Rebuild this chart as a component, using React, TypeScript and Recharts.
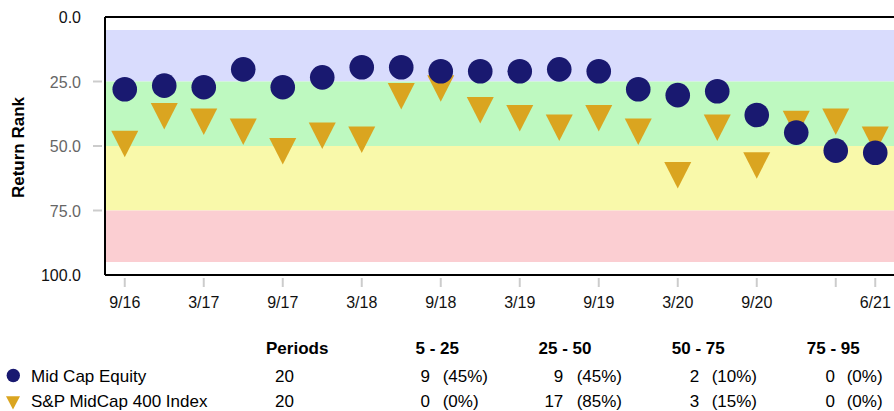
import React from "react";
import {
  ScatterChart,
  Scatter,
  XAxis,
  YAxis,
  ReferenceArea,
  ReferenceLine,
} from "recharts";

// ---------- data ----------
const quarters = [
  "9/16", "12/16", "3/17", "6/17", "9/17", "12/17", "3/18", "6/18", "9/18", "12/18",
  "3/19", "6/19", "9/19", "12/19", "3/20", "6/20", "9/20", "12/20", "3/21", "6/21",
];
const tickIndices = [0, 2, 4, 6, 8, 10, 12, 14, 16, 18, 19];
const hiddenTickLabels = ["3/21"];

const midCapEquity = [
  28.0, 26.6, 27.2, 20.3, 27.2, 23.4, 19.5, 19.5, 21.0, 21.0,
  21.0, 20.3, 21.0, 28.0, 30.3, 28.8, 38.0, 44.8, 51.8, 52.6,
];
const spMidCap400 = [
  47.5, 36.7, 38.9, 42.8, 50.3, 44.3, 45.9, 29.0, 26.0, 34.4,
  37.5, 41.2, 37.5, 42.8, 59.6, 41.2, 55.8, 39.7, 38.9, 45.9,
];

const seriesNames = ["Mid Cap Equity", "S&P MidCap 400 Index"];
const seriesColors = ["#191970", "#DAA520"];

const yTicks = [0, 25, 50, 75, 100];
const bandEdges = [5, 25, 50, 75, 95];
const bandColors = ["#D9DCFD", "#BEF9C0", "#F9F9AA", "#FBCED2"];
const bandLabels = ["5 - 25", "25 - 50", "50 - 75", "75 - 95"];
const periodsHeader = "Periods";

// ---------- derived ----------
const midData = midCapEquity.map((y, i) => ({ x: i, y }));
const spData = spMidCap400.map((y, i) => ({ x: i, y }));

function bandCounts(values: number[]) {
  const counts = bandLabels.map(() => 0);
  values.forEach((v) => {
    for (let b = 0; b < bandLabels.length; b++) {
      const lo = bandEdges[b];
      const hi = bandEdges[b + 1];
      if (v >= lo && (v < hi || (b === bandLabels.length - 1 && v <= hi))) {
        counts[b]++;
        break;
      }
    }
  });
  return counts;
}
const tableRows = [midCapEquity, spMidCap400].map((vals) => ({
  periods: vals.length,
  counts: bandCounts(vals),
}));

const FONT = "'Liberation Sans', Arial, Helvetica, sans-serif";

// ---------- custom pieces ----------
const XTick = (props: any) => {
  const { x, y, payload } = props;
  const label = quarters[payload.value];
  const show = !hiddenTickLabels.includes(label);
  return (
    <g>
      <line x1={x} x2={x} y1={y + 3} y2={y + 12} stroke="#CCCCCC" strokeWidth={2} />
      {show && (
        <text x={x} y={y + 33} textAnchor="middle" fontSize={16} fill="#111" fontFamily={FONT}>
          {label}
        </text>
      )}
    </g>
  );
};

const YTick = (props: any) => {
  const { x, y, payload } = props;
  const v = payload.value;
  const inner = v !== 0 && v !== 100;
  return (
    <g>
      {inner && <line x1={x - 12} x2={x - 3} y1={y} y2={y} stroke="#CCCCCC" strokeWidth={2} />}
      <text
        x={x - 24}
        y={y + 6.3}
        textAnchor="end"
        fontSize={16}
        fill={inner ? "#666666" : "#111111"}
        fontFamily={FONT}
      >
        {v.toFixed(1)}
      </text>
    </g>
  );
};

const CircleShape = (p: any) => {
  const { cx, cy } = p;
  if (cx == null || cy == null) return null;
  return <circle cx={cx} cy={cy} r={12.3} fill={seriesColors[0]} />;
};

const TriShape = (p: any) => {
  const { cx, cy } = p;
  if (cx == null || cy == null) return null;
  return (
    <polygon
      points={`${cx - 13.5},${cy - 8.8} ${cx + 13.5},${cy - 8.8} ${cx},${cy + 17.7}`}
      fill={seriesColors[1]}
    />
  );
};

// table layout
const headerBaseline = 354.3;
const headerCenters = [437.2, 565, 698.3, 833.3];
const countRight = [430, 563.3, 699.3, 835];
const pctLeft = [442.7, 576.7, 711.7, 846.7];
const rowBaselines = [381.8, 407.2];

export default function App() {
  return (
    <div
      style={{
        position: "absolute",
        left: 0,
        top: 0,
        width: 894,
        height: 411,
        overflow: "hidden",
        background: "#fff",
      }}
    >
      <div style={{ position: "absolute", left: 0, top: 0 }}>
        <ScatterChart width={900} height={320} margin={{ top: 17, right: 5, left: 0, bottom: 10 }}>
          <XAxis
            type="number"
            dataKey="x"
            domain={[-0.5, 19.5]}
            ticks={tickIndices}
            interval={0}
            allowDataOverflow
            height={35}
            tickSize={0}
            tickMargin={0}
            tickLine={false}
            axisLine={{ stroke: "#000", strokeWidth: 2 }}
            tick={<XTick />}
          />
          <YAxis
            type="number"
            dataKey="y"
            domain={[0, 100]}
            reversed
            ticks={yTicks}
            interval={0}
            width={105}
            tickSize={0}
            tickMargin={0}
            tickLine={false}
            axisLine={{ stroke: "#000", strokeWidth: 2 }}
            tick={<YTick />}
          />
          {bandColors.map((c, b) => (
            <ReferenceArea
              key={b}
              x1={-0.5}
              x2={19.5}
              y1={bandEdges[b]}
              y2={bandEdges[b + 1]}
              fill={c}
              fillOpacity={1}
              stroke="none"
            />
          ))}
          <ReferenceLine y={0} stroke="#000" strokeWidth={2} />
          <Scatter
            name={seriesNames[1]}
            data={spData}
            dataKey="y"
            fill={seriesColors[1]}
            shape={TriShape}
            isAnimationActive={false}
          />
          <Scatter
            name={seriesNames[0]}
            data={midData}
            dataKey="y"
            fill={seriesColors[0]}
            shape={CircleShape}
            isAnimationActive={false}
          />
        </ScatterChart>
      </div>
      <svg
        width={894}
        height={411}
        style={{ position: "absolute", left: 0, top: 0, pointerEvents: "none" }}
      >
        <text
          x={24}
          y={147.5}
          transform="rotate(-90, 24, 147.5)"
          textAnchor="middle"
          fontSize={17}
          fontWeight="bold"
          fill="#000"
          fontFamily={FONT}
        >
          Return Rank
        </text>

        {/* table header */}
        <text x={266} y={headerBaseline} fontSize={17} fontWeight="bold" fill="#000" fontFamily={FONT}>
          {periodsHeader}
        </text>
        {bandLabels.map((l, b) => (
          <text
            key={l}
            x={headerCenters[b]}
            y={headerBaseline}
            textAnchor="middle"
            fontSize={17}
            fontWeight="bold"
            fill="#000"
            fontFamily={FONT}
          >
            {l}
          </text>
        ))}

        {/* legend markers */}
        <circle cx={13.3} cy={375.5} r={6.7} fill={seriesColors[0]} />
        <polygon points="6,396.2 20,396.2 13,409.5" fill={seriesColors[1]} />

        {tableRows.map((row, r) => (
          <g key={r}>
            <text x={31} y={rowBaselines[r]} fontSize={17} fill="#000" fontFamily={FONT}>
              {seriesNames[r]}
            </text>
            <text x={275} y={rowBaselines[r]} fontSize={17} fill="#000" fontFamily={FONT}>
              {row.periods}
            </text>
            {row.counts.map((c, b) => (
              <g key={b}>
                <text
                  x={countRight[b]}
                  y={rowBaselines[r]}
                  textAnchor="end"
                  fontSize={17}
                  fill="#000"
                  fontFamily={FONT}
                >
                  {c}
                </text>
                <text x={pctLeft[b]} y={rowBaselines[r]} fontSize={17} fill="#000" fontFamily={FONT}>
                  {`(${Math.round((c / row.periods) * 100)}%)`}
                </text>
              </g>
            ))}
          </g>
        ))}
      </svg>
    </div>
  );
}
